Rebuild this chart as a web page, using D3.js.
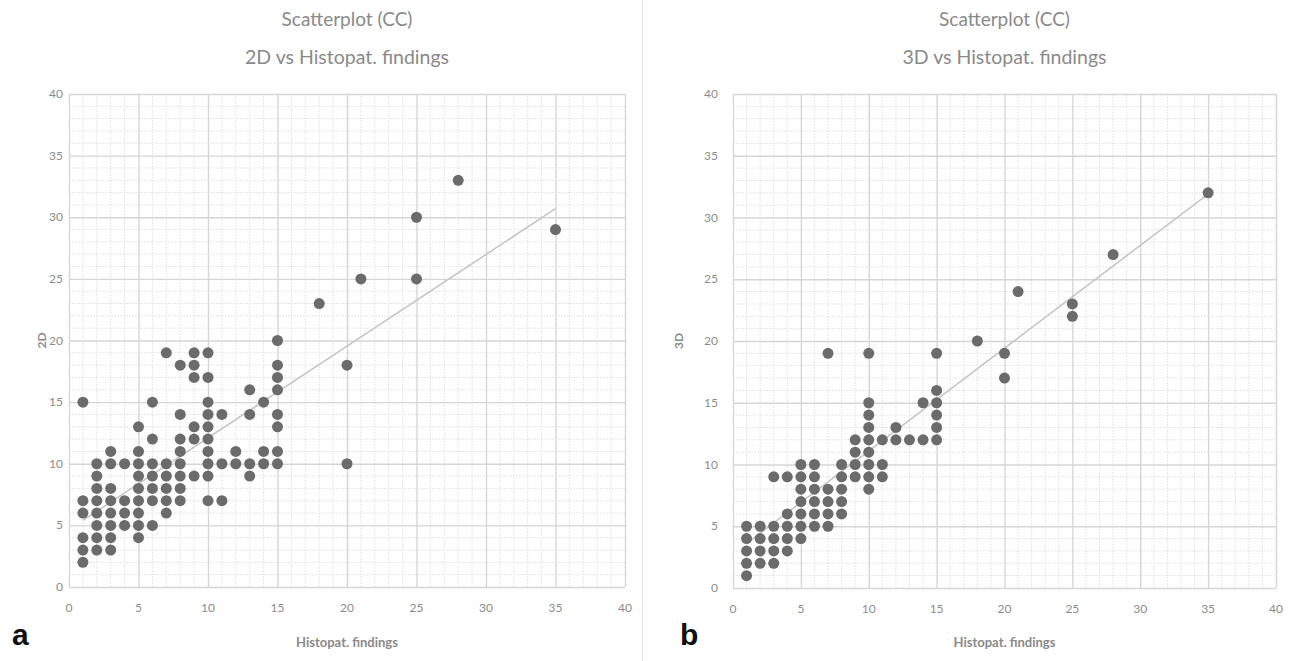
<!DOCTYPE html>
<html>
<head>
<meta charset="utf-8">
<script src="https://cdn.jsdelivr.net/npm/d3@7"></script>
<style>
body { margin: 0; background: #fff; }
text { font-family: Lato, "Open Sans", sans-serif; }
</style>
</head>
<body>
<svg id="chart" width="1301" height="661"></svg>
<script>
// panel a: 2D vs histopathology (one entry per point)
const histo2D = [
  1,1,1,1,1,1,
  2,2,2,2,2,2,2,2,
  3,3,3,3,3,3,3,3,
  4,4,4,4,
  5,5,5,5,5,5,5,5,5,
  6,6,6,6,6,6,6,
  7,7,7,7,7,7,
  8,8,8,8,8,8,8,8,
  9,9,9,9,9,9,
  10,10,10,10,10,10,10,10,10,10,
  11,11,11,
  12,12,
  13,13,13,13,
  14,14,14,
  15,15,15,15,15,15,15,15,
  18, 20,20, 21, 25,25, 28, 35
];
const score2D = [
  2,3,4,6,7,15,
  3,4,5,6,7,8,9,10,
  3,4,5,6,7,8,10,11,
  5,6,7,10,
  4,5,6,7,8,9,10,11,13,
  5,7,8,9,10,12,15,
  6,7,8,9,10,19,
  7,8,9,10,11,12,14,18,
  9,12,13,17,18,19,
  7,9,10,11,12,13,14,15,17,19,
  7,10,14,
  10,11,
  9,10,14,16,
  10,11,15,
  10,11,13,14,16,17,18,20,
  23, 10,18, 25, 25,30, 33, 29
];
// trend line (start and end)
const trendX2D = [1, 35];
const trendY2D = [5.4, 30.7];

// panel b: 3D vs histopathology
const histo3D = [
  1,1,1,1,1,
  2,2,2,2,
  3,3,3,3,3,
  4,4,4,4,4,
  5,5,5,5,5,5,5,
  6,6,6,6,6,6,
  7,7,7,7,7,
  8,8,8,8,8,
  9,9,9,9,
  10,10,10,10,10,10,10,10,10,
  11,11,11,
  12,12,
  13,
  14,14,
  15,15,15,15,15,15,
  18, 20,20, 21, 25,25, 28, 35
];
const score3D = [
  1,2,3,4,5,
  2,3,4,5,
  2,3,4,5,9,
  3,4,5,6,9,
  4,5,6,7,8,9,10,
  5,6,7,8,9,10,
  5,6,7,8,19,
  6,7,8,9,10,
  9,10,11,12,
  8,9,10,11,12,13,14,15,19,
  9,10,12,
  12,13,
  12,
  12,15,
  12,13,14,15,16,19,
  20, 17,19, 24, 22,23, 27, 32
];
const trendX3D = [1, 35];
const trendY3D = [3.6, 31.9];

const axisTicks = [0, 5, 10, 15, 20, 25, 30, 35, 40];
const titleLine1 = 'Scatterplot (CC)';
const xTitle = 'Histopat. findings';

const panels = [
  { letter: 'a', xs: histo2D, ys: score2D, tx: trendX2D, ty: trendY2D, yTitle: '2D',
    sub: '2D vs Histopat. findings', left: 69, right: 625, top: 94, bottom: 587,
    yLabelX: 63, yTitleX: 46, letterX: 12 },
  { letter: 'b', xs: histo3D, ys: score3D, tx: trendX3D, ty: trendY3D, yTitle: '3D',
    sub: '3D vs Histopat. findings', left: 733, right: 1276, top: 94, bottom: 588,
    yLabelX: 718, yTitleX: 683, letterX: 680 }
];

const svg = d3.select('#chart');

// thin divider between the two panels
svg.append('line')
  .attr('x1', 642.5).attr('x2', 642.5).attr('y1', 0).attr('y2', 661)
  .attr('stroke', '#e3e3e3').attr('stroke-width', 1);

panels.forEach(p => {
  const x = d3.scaleLinear().domain([0, 40]).range([p.left, p.right]);
  const y = d3.scaleLinear().domain([0, 40]).range([p.bottom, p.top]);
  const g = svg.append('g');

  // minor grid (every unit)
  const minor = d3.range(0, 41).filter(d => d % 5 != 0);
  g.append('g').selectAll('line').data(minor).join('line')
    .attr('x1', d => x(d)).attr('x2', d => x(d))
    .attr('y1', y(0)).attr('y2', y(40))
    .attr('stroke', '#e6e6e6').attr('stroke-dasharray', '2,1');
  g.append('g').selectAll('line').data(minor).join('line')
    .attr('y1', d => y(d)).attr('y2', d => y(d))
    .attr('x1', x(0)).attr('x2', x(40))
    .attr('stroke', '#e6e6e6').attr('stroke-dasharray', '2,1');

  // major grid
  const gx = g.append('g').attr('transform', `translate(0,${y(0)})`)
    .call(d3.axisBottom(x).tickValues(axisTicks).tickSize(-(y(0) - y(40))).tickFormat(''));
  const gy = g.append('g').attr('transform', `translate(${x(0)},0)`)
    .call(d3.axisLeft(y).tickValues(axisTicks).tickSize(-(x(40) - x(0))).tickFormat(''));
  [gx, gy].forEach(a => {
    a.selectAll('.tick line').attr('stroke', '#d6d6d6').attr('stroke-width', 1.4);
    a.select('.domain').remove();
  });

  // tick labels
  g.append('g').selectAll('text').data(axisTicks).join('text')
    .attr('x', d => x(d)).attr('y', y(0) + 25)
    .attr('text-anchor', 'middle')
    .attr('font-size', 12).attr('fill', '#8c8c8c')
    .text(d => d);
  g.append('g').selectAll('text').data(axisTicks).join('text')
    .attr('x', p.yLabelX).attr('y', d => y(d) + 4)
    .attr('text-anchor', 'end')
    .attr('font-size', 12).attr('fill', '#8c8c8c')
    .text(d => d);

  // trend line
  g.append('line')
    .attr('x1', x(p.tx[0])).attr('y1', y(p.ty[0]))
    .attr('x2', x(p.tx[1])).attr('y2', y(p.ty[1]))
    .attr('stroke', '#c6c6c6').attr('stroke-width', 1.6);

  // points
  g.append('g').selectAll('circle').data(p.xs).join('circle')
    .attr('cx', d => x(d))
    .attr('cy', (d, i) => y(p.ys[i]))
    .attr('r', 5.5)
    .attr('fill', '#6b6b6b');

  // titles
  const cx = (p.left + p.right) / 2;
  g.append('text').attr('x', cx).attr('y', 26).attr('text-anchor', 'middle')
    .attr('font-size', 19).attr('fill', '#8a8a8a').text(titleLine1);
  g.append('text').attr('x', cx).attr('y', 64).attr('text-anchor', 'middle')
    .attr('font-size', 19.5).attr('fill', '#8a8a8a').text(p.sub);

  // axis titles
  g.append('text').attr('x', cx).attr('y', 647).attr('text-anchor', 'middle')
    .attr('font-size', 13).attr('font-weight', 'bold').attr('fill', '#8a8a8a').text(xTitle);
  g.append('text')
    .attr('transform', `translate(${p.yTitleX},${(p.top + p.bottom) / 2}) rotate(-90)`)
    .attr('text-anchor', 'middle')
    .attr('font-size', 12).attr('font-weight', 'bold').attr('fill', '#8a8a8a').text(p.yTitle);

  // panel letter
  g.append('text').attr('x', p.letterX).attr('y', 645)
    .style('font-family', 'Arial, "Liberation Sans", sans-serif')
    .attr('font-size', 30).attr('font-weight', 'bold').attr('fill', '#111').text(p.letter);
});
</script>
</body>
</html>
